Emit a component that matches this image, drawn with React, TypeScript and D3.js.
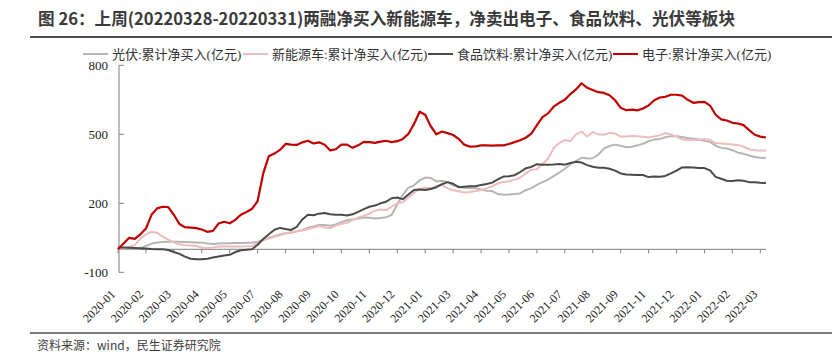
import { useEffect, useRef } from 'react';
import * as d3 from 'd3';

const W = 837;
const H = 354;

// x tick labels, one every 5 weekly points
const tickLabels = [
  '2020-01', '2020-02', '2020-03', '2020-04', '2020-05', '2020-07', '2020-08', '2020-09',
  '2020-10', '2020-11', '2020-12', '2021-01', '2021-03', '2021-04', '2021-05', '2021-06',
  '2021-07', '2021-08', '2021-09', '2021-11', '2021-12', '2022-01', '2022-02', '2022-03',
];
const yTicks = [-100, 200, 500, 800];

// 光伏
const pv = [
  3, 2, 2, 2, 4, 15, 25, 30, 32, 33,
  33, 33, 32, 31, 30, 29, 25, 23, 25, 26,
  26, 27, 27, 28, 29, 33, 40, 50, 57, 64,
  70, 72, 78, 84, 94, 99, 106, 106, 102, 108,
  118, 126, 130, 134, 138, 137, 134, 136, 139, 150,
  195, 238, 268, 278, 300, 312, 310, 295, 298, 292,
  278, 272, 268, 267, 265, 260, 255, 253, 240, 237,
  238, 240, 243, 257, 266, 280, 292, 303, 318, 333,
  350, 370, 383, 398, 395, 396, 412, 438, 449, 455,
  450, 444, 446, 452, 459, 470, 477, 480, 487, 492,
  492, 488, 484, 481, 477, 472, 467, 450, 441, 438,
  431, 420, 415, 408, 401, 398, 397,
];
// 新能源车
const nev = [
  3, 4, 10, 18, 45, 66, 75, 72, 55, 42,
  30, 22, 18, 17, 14, 8, 5, 8, 12, 13,
  12, 12, 12, 13, 14, 30, 40, 47, 54, 61,
  68, 75, 79, 82, 88, 94, 101, 96, 92, 103,
  110, 115, 127, 138, 145, 155, 168, 173, 170, 185,
  200, 205, 225, 245, 262, 268, 265, 275, 280, 265,
  257, 252, 247, 249, 253, 258, 265, 275, 286, 293,
  296, 303, 311, 330, 346, 348, 370, 395, 440, 462,
  475, 470, 500, 512, 490, 510, 500, 498, 506, 503,
  490, 490, 493, 492, 489, 486, 491, 495, 505, 500,
  490, 478, 474, 475, 476, 478, 476, 462, 460, 458,
  456, 454, 446, 435, 431, 430, 430,
];
// 食品饮料
const food = [
  8, 8, 7, 6, 5, 3, 1, 0, 0, -3,
  -12, -20, -32, -41, -43, -43, -41, -36, -31, -27,
  -24, -12, -4, -2, 0, 20, 45, 65, 85, 93,
  88, 84, 98, 130, 150, 148, 155, 158, 152, 150,
  150, 147, 152, 163, 175, 185, 190, 200, 207, 222,
  225, 218, 238, 258, 260, 258, 262, 270, 283, 292,
  285, 270, 272, 274, 274, 280, 284, 290, 304, 316,
  318, 322, 336, 352, 358, 370, 368, 368, 369, 371,
  368, 375, 381, 377, 366, 359, 355, 355, 350, 342,
  330, 325, 324, 323, 323, 314, 316, 315, 319, 330,
  342, 356, 357, 356, 353, 353, 343, 315, 307, 298,
  297, 300, 298, 292, 292, 289, 288,
];
// 电子
const elec = [
  0, 25, 50, 45, 65, 90, 150, 178, 185, 183,
  150, 110, 96, 94, 92, 86, 76, 80, 112, 120,
  113, 128, 150, 162, 176, 210, 330, 405, 416, 432,
  458, 455, 454, 465, 472, 460, 465, 455, 430, 435,
  455, 455, 441, 452, 467, 466, 463, 468, 472, 466,
  470, 480, 502, 545, 598, 585, 535, 500, 512, 505,
  497, 480, 455, 446, 447, 452, 452, 451, 452, 452,
  458, 466, 474, 485, 503, 540, 575, 591, 620, 637,
  650, 675, 695, 722, 702, 693, 683, 680, 670, 648,
  615, 605, 607, 604, 612, 625, 648, 660, 663, 672,
  672, 668, 650, 637, 640, 641, 625, 585, 565, 560,
  550, 547, 540, 518, 498, 490, 486,
];

const series = [
  { name: '光伏:累计净买入(亿元)', values: pv, color: '#b5b5b5' },
  { name: '新能源车:累计净买入(亿元)', values: nev, color: '#eebcbc' },
  { name: '食品饮料:累计净买入(亿元)', values: food, color: '#4a4a4a' },
  { name: '电子:累计净买入(亿元)', values: elec, color: '#c00000' },
];

const serif = "'Liberation Serif', 'Times New Roman', 'Noto Sans CJK SC', serif";
const sans = "'Noto Sans CJK SC', 'Noto Sans', sans-serif";

const App = () => {
  const svgRef = useRef<SVGSVGElement | null>(null);

  useEffect(() => {
    const svg = d3.select(svgRef.current);
    svg.selectAll('*').remove();

    const x = d3.scaleLinear().domain([0, pv.length - 1]).range([118, 765.9]);
    const y = d3.scaleLinear().domain([-100, 800]).range([272.3, 65.3]);
    const axisColor = '#7f7f7f';

    // title + rules
    svg.append('text')
      .attr('x', 38)
      .attr('y', 25)
      .attr('font-family', sans)
      .attr('font-size', 17)
      .attr('font-weight', 'bold')
      .attr('fill', '#3a3a3a')
      .attr('textLength', 697)
      .attr('lengthAdjust', 'spacingAndGlyphs')
      .text('图 26：上周(20220328-20220331)两融净买入新能源车，净卖出电子、食品饮料、光伏等板块');

    svg.append('line')
      .attr('x1', 30).attr('x2', 832).attr('y1', 37).attr('y2', 37)
      .attr('stroke', '#4d4d4d').attr('stroke-width', 2);
    svg.append('line')
      .attr('x1', 30).attr('x2', 832).attr('y1', 333).attr('y2', 333)
      .attr('stroke', '#4d4d4d').attr('stroke-width', 1.5);

    svg.append('text')
      .attr('x', 37)
      .attr('y', 350)
      .attr('font-family', sans)
      .attr('font-size', 12)
      .attr('fill', '#404040')
      .text('资料来源：wind，民生证券研究院');

    // legend
    const legendX = [83, 243, 428, 613];
    const legend = svg.selectAll('.legend')
      .data(series)
      .enter()
      .append('g')
      .attr('class', 'legend')
      .attr('transform', (d, i) => `translate(${legendX[i]},54)`);
    legend.append('line')
      .attr('x1', 0).attr('x2', 25).attr('y1', 0).attr('y2', 0)
      .attr('stroke', d => d.color).attr('stroke-width', 2);
    legend.append('text')
      .attr('x', 29)
      .attr('y', 4.5)
      .attr('font-family', serif)
      .attr('font-size', 13)
      .attr('fill', '#333')
      .text(d => d.name);

    // y axis
    svg.append('line')
      .attr('x1', 119).attr('x2', 119).attr('y1', y(-100)).attr('y2', y(800))
      .attr('stroke', axisColor).attr('stroke-width', 1);
    svg.selectAll('.ytick')
      .data(yTicks)
      .enter()
      .append('line')
      .attr('x1', 119).attr('x2', 124)
      .attr('y1', d => y(d)).attr('y2', d => y(d))
      .attr('stroke', axisColor);
    svg.selectAll('.ylabel')
      .data(yTicks)
      .enter()
      .append('text')
      .attr('x', 108)
      .attr('y', d => y(d) + 4.5)
      .attr('text-anchor', 'end')
      .attr('font-family', serif)
      .attr('font-size', 13)
      .attr('fill', '#222')
      .text(d => d);

    // x axis at zero
    svg.append('line')
      .attr('x1', 119).attr('x2', 766).attr('y1', y(0)).attr('y2', y(0))
      .attr('stroke', axisColor).attr('stroke-width', 1);
    svg.selectAll('.xtick')
      .data(tickLabels)
      .enter()
      .append('line')
      .attr('x1', (d, i) => x(i * 5)).attr('x2', (d, i) => x(i * 5))
      .attr('y1', y(0)).attr('y2', y(0) + 4)
      .attr('stroke', axisColor);
    svg.selectAll('.xlabel')
      .data(tickLabels)
      .enter()
      .append('text')
      .attr('transform', (d, i) => `translate(${x(i * 5) - 2},295) rotate(-45)`)
      .attr('text-anchor', 'end')
      .attr('font-family', serif)
      .attr('font-size', 12)
      .attr('fill', '#222')
      .text(d => d);

    // lines
    const line = d3.line<number>()
      .x((d, i) => x(i))
      .y(d => y(d));
    svg.selectAll('.series')
      .data(series)
      .enter()
      .append('path')
      .attr('class', 'series')
      .attr('d', d => line(d.values))
      .attr('fill', 'none')
      .attr('stroke', d => d.color)
      .attr('stroke-width', d => (d.color === '#c00000' ? 2.2 : 2))
      .attr('stroke-linejoin', 'round');
  }, []);

  return (
    <div style={{ position: 'fixed', left: 0, top: 0, background: '#fff' }}>
      <svg ref={svgRef} width={W} height={H} style={{ display: 'block' }}></svg>
    </div>
  );
};

export default App;
